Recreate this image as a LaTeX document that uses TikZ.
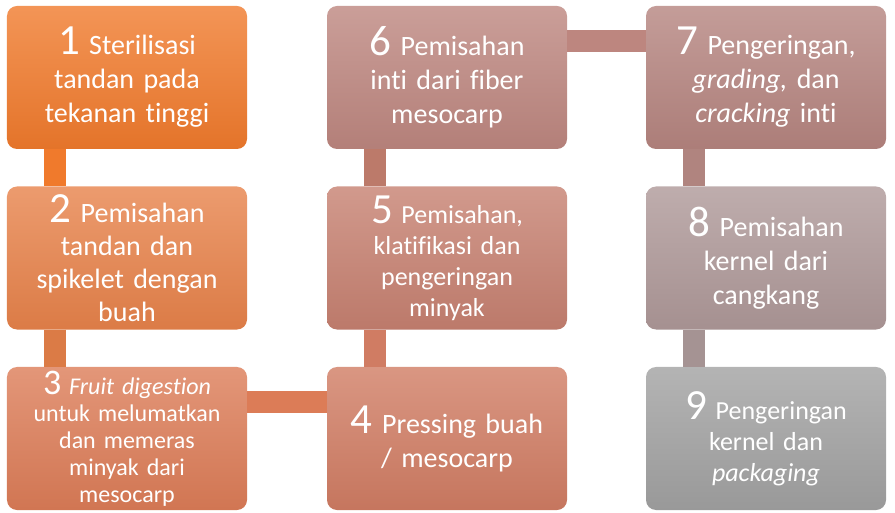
\documentclass[tikz,border=0pt]{standalone}
\usepackage{fontspec}
\setmainfont{Carlito}[Ligatures = NoCommon]
\usepackage{tikz}

\definecolor{cA}{HTML}{F07A2C}
\definecolor{cB}{HTML}{E7824A}
\definecolor{cC}{HTML}{DC7C57}
\definecolor{cD}{HTML}{D07C63}
\definecolor{cE}{HTML}{C68070}
\definecolor{cF}{HTML}{BD867F}
\definecolor{cG}{HTML}{B5847F}
\definecolor{cH}{HTML}{AE9898}
\definecolor{cI}{HTML}{A1A1A1}
\newcommand{\numb}[1]{{\fontsize{43bp}{43bp}\selectfont #1}}

\begin{document}
\begin{tikzpicture}[x = 1bp, y = -1bp,
  stage/.style = {rounded corners = 10bp, minimum width = 240bp, minimum height = 143bp,
    text width = 226bp, align = center, text = white, inner sep = 0pt,
    font = \fontsize{28bp}{34bp}\selectfont,
    top color = #1!80!white, bottom color = #1!95!black},
  link/.style = {line width = 22bp, draw = #1}]
\useasboundingbox (0,0) rectangle (895,513);
\node [stage = cA] (s1) at (127,77.5) {\numb{1} Sterilisasi\\tandan pada\\tekanan tinggi};
\node [stage = cB, font = \fontsize{28bp}{33bp}\selectfont] (s2) at (127,258) {\numb{2} Pemisahan\\tandan dan\\spikelet dengan\\buah};
\node [stage = cC, font = \fontsize{24bp}{27bp}\selectfont] (s3) at (127,438.5) {{\fontsize{36bp}{36bp}\selectfont 3} \textit{Fruit digestion}\\untuk melumatkan\\dan memeras\\minyak dari\\mesocarp};
\node [stage = cD] (s4) at (447,438.5) {\numb{4} Pressing buah\\/ mesocarp};
\node [stage = cE, font = \fontsize{26bp}{31bp}\selectfont] (s5) at (447,258) {\numb{5} Pemisahan,\\klatifikasi dan\\pengeringan\\minyak};
\node [stage = cF] (s6) at (447,77.5) {\numb{6} Pemisahan\\inti dari fiber\\mesocarp};
\node [stage = cG] (s7) at (766,77.5) {\numb{7} Pengeringan,\\\textit{grading,} dan\\\textit{cracking} inti};
\node [stage = cH] (s8) at (766,258) {\numb{8} Pemisahan\\kernel dari\\cangkang};
\node [stage = cI, font = \fontsize{26bp}{31bp}\selectfont] (s9) at (766,438.5) {\numb{9} Pengeringan\\kernel dan\\\textit{packaging}};
% connectors
\draw [link = cA] ([xshift = 48.5bp]s1.south west) -- ([xshift = 48.5bp]s2.north west);
\draw [link = cB!95!black] ([xshift = 48.5bp]s2.south west) -- ([xshift = 48.5bp]s3.north west);
\draw [link = cC] ([yshift = -35bp]s3.north east) -- ([yshift = -35bp]s4.north west);
\draw [link = cD] ([xshift = 48.5bp]s4.north west) -- ([xshift = 48.5bp]s5.south west);
\draw [link = cE!95!black] ([xshift = 48.5bp]s5.north west) -- ([xshift = 48.5bp]s6.south west);
\draw [link = cF] ([yshift = -35bp]s6.north east) -- ([yshift = -35bp]s7.north west);
\draw [link = cG!90!gray] ([xshift = 48.5bp]s7.south west) -- ([xshift = 48.5bp]s8.north west);
\draw [link = cH!80!gray] ([xshift = 48.5bp]s8.south west) -- ([xshift = 48.5bp]s9.north west);
\end{tikzpicture}
\end{document}
